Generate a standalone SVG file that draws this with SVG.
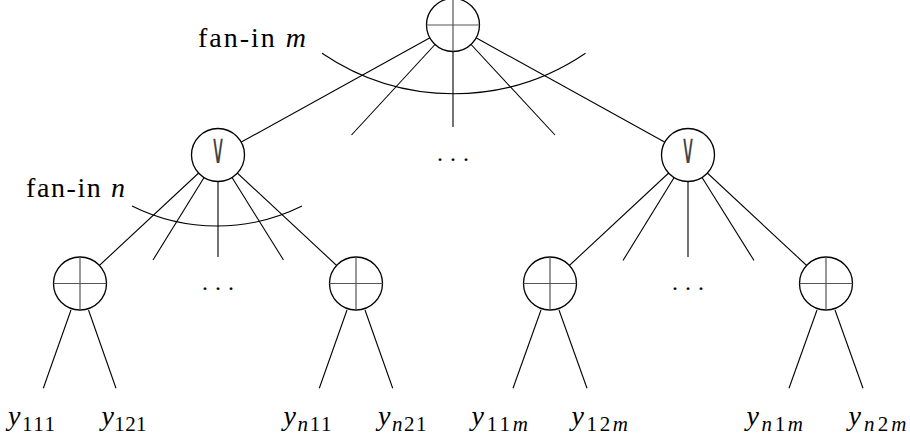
<svg xmlns="http://www.w3.org/2000/svg" width="910" height="442" viewBox="0 0 910 442">
<style>
.e{stroke:#000;stroke-width:1.1;fill:none}
.n{fill:#fff;stroke:#000;stroke-width:1.3}
.x{stroke:#555;stroke-width:1.2}
.t{font-family:"Liberation Serif","Times New Roman",serif;fill:#000;font-size:28px}
.i{font-style:italic}
.s{font-size:21px}
.d{font-family:"Liberation Serif",serif;font-size:24px;letter-spacing:7px;fill:#000}
.v{font-family:"DejaVu Sans",sans-serif;font-size:22px;fill:#444}
</style>
<rect width="910" height="442" fill="#fff"/>
<g id="connectors">
<line class="e" x1="453" y1="25" x2="218" y2="155"/>
<line class="e" x1="453" y1="25" x2="351.5" y2="135"/>
<line class="e" x1="453" y1="25" x2="453" y2="127"/>
<line class="e" x1="453" y1="25" x2="555" y2="135"/>
<line class="e" x1="453" y1="25" x2="688" y2="155"/>
<path class="e" d="M322,53.3 A234.6,234.6 0 0 0 585.5,53.3"/>
<line class="e" x1="218" y1="155" x2="80" y2="283.5"/>
<line class="e" x1="218" y1="155" x2="153" y2="260"/>
<line class="e" x1="218" y1="155" x2="218" y2="257"/>
<line class="e" x1="218" y1="155" x2="283.5" y2="260"/>
<line class="e" x1="218" y1="155" x2="356" y2="283.5"/>
<path class="e" d="M132,206 A190.6,190.6 0 0 0 302,206"/>
<line class="e" x1="688" y1="155" x2="550" y2="283.5"/>
<line class="e" x1="688" y1="155" x2="623" y2="260.5"/>
<line class="e" x1="688" y1="155" x2="688" y2="257"/>
<line class="e" x1="688" y1="155" x2="754" y2="260.5"/>
<line class="e" x1="688" y1="155" x2="826" y2="283.5"/>
<line class="e" x1="71" y1="310" x2="43.3" y2="388.3"/>
<line class="e" x1="88.5" y1="310" x2="116" y2="388.3"/>
<line class="e" x1="347" y1="310" x2="319.3" y2="388.3"/>
<line class="e" x1="365" y1="310" x2="392.7" y2="388.3"/>
<line class="e" x1="541" y1="310" x2="513" y2="388.3"/>
<line class="e" x1="559" y1="310" x2="587" y2="388.3"/>
<line class="e" x1="817" y1="310" x2="789" y2="388.3"/>
<line class="e" x1="835" y1="310" x2="863" y2="388.3"/>
</g>
<g id="root">
<circle class="n" cx="453" cy="25" r="26.5"/>
<line class="x" x1="453" y1="-2" x2="453" y2="51.5"/>
<line class="x" x1="426.5" y1="25" x2="479.5" y2="25"/>
</g>
<g id="or-left">
<circle class="n" cx="218" cy="155" r="26.5"/>
<text class="v" x="0" y="0" text-anchor="middle" transform="translate(218 163) scale(0.9 1.9)">∨</text>
</g>
<g id="or-right">
<circle class="n" cx="688" cy="155" r="26.5"/>
<text class="v" x="0" y="0" text-anchor="middle" transform="translate(688 163) scale(0.9 1.9)">∨</text>
</g>
<g id="leaf1">
<circle class="n" cx="80" cy="283.5" r="26.5"/>
<line class="x" x1="80" y1="257" x2="80" y2="310"/>
<line class="x" x1="53.5" y1="283.5" x2="106.5" y2="283.5"/>
</g>
<g id="leaf2">
<circle class="n" cx="356" cy="283.5" r="26.5"/>
<line class="x" x1="356" y1="257" x2="356" y2="310"/>
<line class="x" x1="329.5" y1="283.5" x2="382.5" y2="283.5"/>
</g>
<g id="leaf3">
<circle class="n" cx="550" cy="283.5" r="26.5"/>
<line class="x" x1="550" y1="257" x2="550" y2="310"/>
<line class="x" x1="523.5" y1="283.5" x2="576.5" y2="283.5"/>
</g>
<g id="leaf4">
<circle class="n" cx="826" cy="283.5" r="26.5"/>
<line class="x" x1="826" y1="257" x2="826" y2="310"/>
<line class="x" x1="799.5" y1="283.5" x2="852.5" y2="283.5"/>
</g>
<g id="labels">
<text class="t" x="198" y="47" textLength="108">fan-in <tspan class="i">m</tspan></text>
<text class="t" x="26" y="197" textLength="99">fan-in <tspan class="i">n</tspan></text>
<text class="d" x="437" y="161">...</text>
<text class="d" x="202" y="290">...</text>
<text class="d" x="672" y="290">...</text>
<text class="t" x="8" y="425" textLength="47"><tspan class="i">y</tspan><tspan class="s" dy="6">111</tspan></text>
<text class="t" x="101.5" y="425" textLength="45"><tspan class="i">y</tspan><tspan class="s" dy="6">121</tspan></text>
<text class="t" x="283.5" y="425" textLength="48"><tspan class="i">y</tspan><tspan class="s i" dy="6">n</tspan><tspan class="s">11</tspan></text>
<text class="t" x="378" y="425" textLength="48.5"><tspan class="i">y</tspan><tspan class="s i" dy="6">n</tspan><tspan class="s">21</tspan></text>
<text class="t" x="471.5" y="425" textLength="56.5"><tspan class="i">y</tspan><tspan class="s" dy="6">11</tspan><tspan class="s i">m</tspan></text>
<text class="t" x="571.5" y="425" textLength="56.5"><tspan class="i">y</tspan><tspan class="s" dy="6">12</tspan><tspan class="s i">m</tspan></text>
<text class="t" x="746.5" y="425" textLength="56.5"><tspan class="i">y</tspan><tspan class="s i" dy="6">n</tspan><tspan class="s">1</tspan><tspan class="s i">m</tspan></text>
<text class="t" x="848.5" y="425" textLength="58"><tspan class="i">y</tspan><tspan class="s i" dy="6">n</tspan><tspan class="s">2</tspan><tspan class="s i">m</tspan></text>
</g>
</svg>
